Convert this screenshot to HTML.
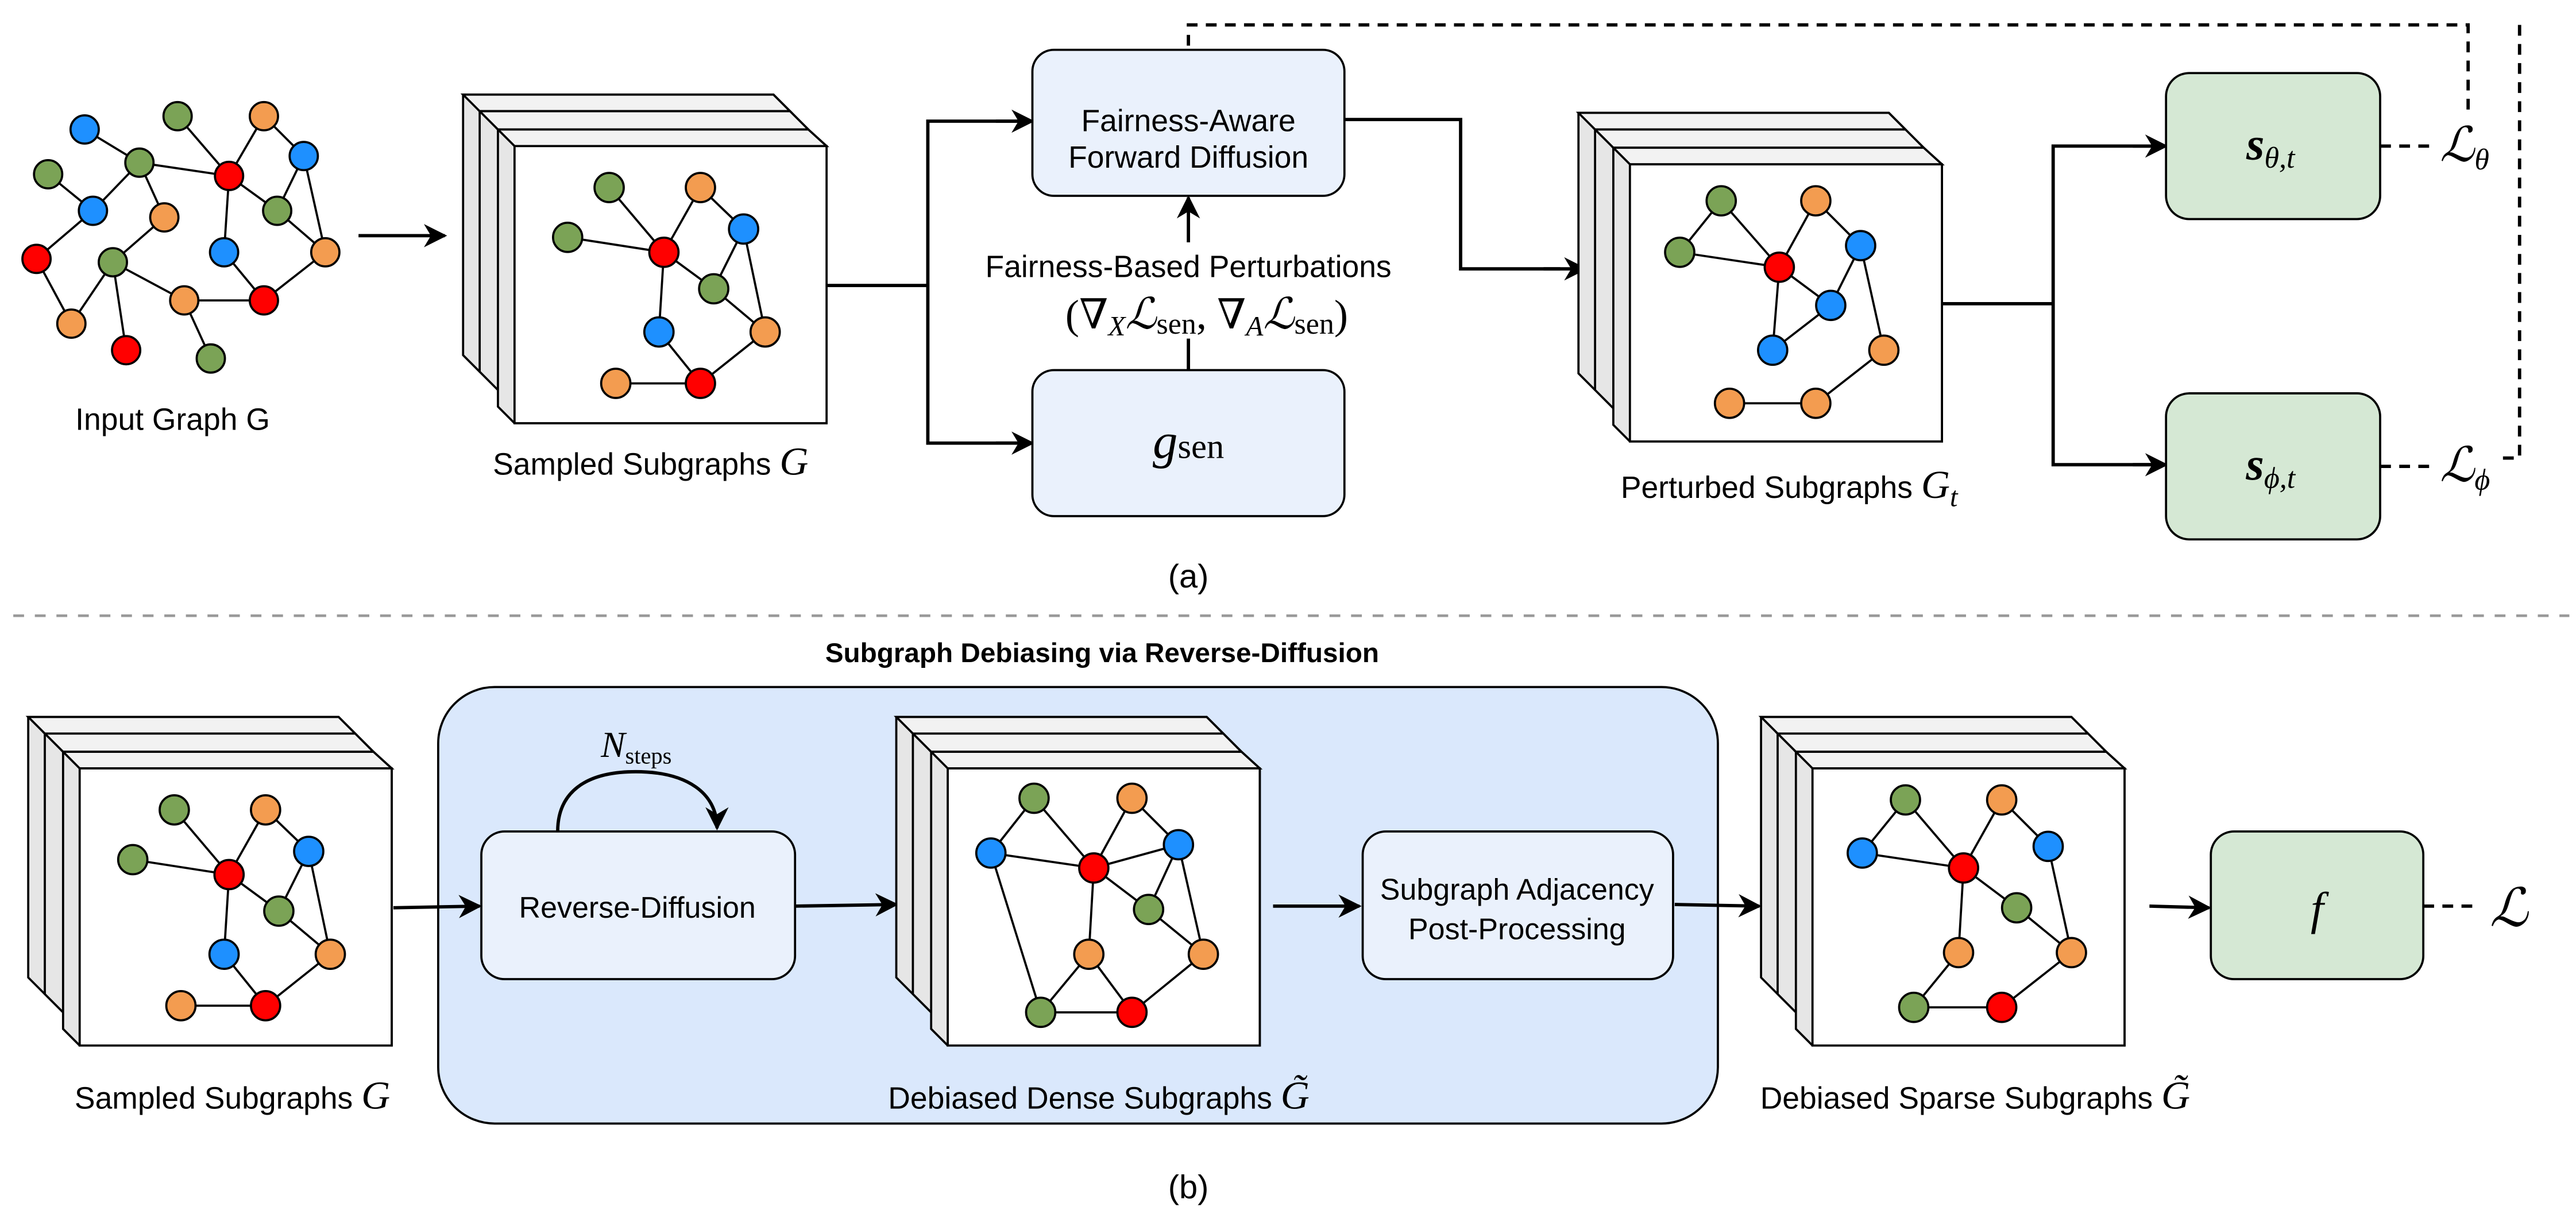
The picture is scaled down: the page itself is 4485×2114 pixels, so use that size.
<!DOCTYPE html>
<html><head><meta charset="utf-8"><style>
html,body{margin:0;padding:0;background:#fff;}
svg{display:block;}
text{font-family:"Liberation Sans",sans-serif;}
.m{font-family:"Liberation Serif","DejaVu Serif",serif;font-style:italic;}
.r{font-family:"Liberation Serif","DejaVu Serif",serif;}
</style></head><body>
<svg xmlns="http://www.w3.org/2000/svg" width="4485" height="2114" viewBox="0 0 1552 731.5">
<defs>
<marker id="ar2" viewBox="0 0 10 10" refX="9" refY="5" markerWidth="14" markerHeight="14" orient="auto" markerUnits="userSpaceOnUse">
<path d="M0,0 L10,5 L0,10 L3,5 z" fill="#000"/></marker>
</defs>
<g stroke="#000" stroke-width="1.3">

<g stroke-width="1.3">
<line x1="51" y1="78" x2="84" y2="98"/><line x1="107" y1="70" x2="138" y2="106"/>
<line x1="159" y1="70" x2="138" y2="106"/><line x1="159" y1="70" x2="183" y2="94"/>
<line x1="84" y1="98" x2="138" y2="106"/><line x1="29" y1="105" x2="56" y2="127"/>
<line x1="56" y1="127" x2="84" y2="98"/><line x1="84" y1="98" x2="99" y2="131"/>
<line x1="138" y1="106" x2="167" y2="127"/><line x1="138" y1="106" x2="135" y2="152"/>
<line x1="183" y1="94" x2="167" y2="127"/><line x1="183" y1="94" x2="196" y2="152"/>
<line x1="167" y1="127" x2="196" y2="152"/><line x1="56" y1="127" x2="22" y2="156"/>
<line x1="22" y1="156" x2="43" y2="195"/><line x1="43" y1="195" x2="68" y2="158"/>
<line x1="68" y1="158" x2="99" y2="131"/><line x1="68" y1="158" x2="76" y2="211"/>
<line x1="68" y1="158" x2="111" y2="181"/><line x1="111" y1="181" x2="159" y2="181"/>
<line x1="135" y1="152" x2="159" y2="181"/><line x1="159" y1="181" x2="196" y2="152"/>
<line x1="111" y1="181" x2="127" y2="216"/>
</g>
<g>
<circle cx="51" cy="78" r="8.5" fill="#1e90ff"/><circle cx="107" cy="70" r="8.5" fill="#7ba356"/>
<circle cx="159" cy="70" r="8.5" fill="#f39c50"/><circle cx="84" cy="98" r="8.5" fill="#7ba356"/>
<circle cx="29" cy="105" r="8.5" fill="#7ba356"/><circle cx="138" cy="106" r="8.5" fill="#ff0000"/>
<circle cx="183" cy="94" r="8.5" fill="#1e90ff"/><circle cx="56" cy="127" r="8.5" fill="#1e90ff"/>
<circle cx="99" cy="131" r="8.5" fill="#f39c50"/><circle cx="167" cy="127" r="8.5" fill="#7ba356"/>
<circle cx="22" cy="156" r="8.5" fill="#ff0000"/><circle cx="68" cy="158" r="8.5" fill="#7ba356"/>
<circle cx="135" cy="152" r="8.5" fill="#1e90ff"/><circle cx="196" cy="152" r="8.5" fill="#f39c50"/>
<circle cx="111" cy="181" r="8.5" fill="#f39c50"/><circle cx="159" cy="181" r="8.5" fill="#ff0000"/>
<circle cx="43" cy="195" r="8.5" fill="#f39c50"/><circle cx="76" cy="211" r="8.5" fill="#ff0000"/>
<circle cx="127" cy="216" r="8.5" fill="#7ba356"/>
</g>
<line x1="216" y1="142" x2="268" y2="142" stroke-width="2" marker-end="url(#ar2)"/>

<g id="stk1">
<polygon points="279,57 466,57 476,67 476,224 289,224 279,214" fill="#e6e6e6"/>
<polygon points="279,57 466,57 476,67 289,67" fill="#f2f2f2"/>
<polygon points="289,67 476,67 487,78 487,235 300,235 289,224" fill="#e6e6e6"/>
<polygon points="289,67 476,67 487,78 300,78" fill="#f2f2f2"/>
<polygon points="300,78 487,78 498,88 498,255 310,255 300,245" fill="#e6e6e6"/>
<polygon points="300,78 487,78 498,88 310,88" fill="#f2f2f2"/>
<rect x="310" y="88" width="188" height="167" fill="#fff"/>
</g>
<g id="sg">
<line x1="367" y1="113" x2="400" y2="152"/><line x1="422" y1="113" x2="400" y2="152"/>
<line x1="422" y1="113" x2="448" y2="138"/><line x1="342" y1="143" x2="400" y2="152"/>
<line x1="400" y1="152" x2="430" y2="174"/><line x1="448" y1="138" x2="430" y2="174"/>
<line x1="448" y1="138" x2="461" y2="200"/><line x1="430" y1="174" x2="461" y2="200"/>
<line x1="400" y1="152" x2="397" y2="200"/><line x1="397" y1="200" x2="422" y2="231"/>
<line x1="371" y1="231" x2="422" y2="231"/><line x1="422" y1="231" x2="461" y2="200"/>
<circle cx="367" cy="113" r="8.8" fill="#7ba356"/><circle cx="422" cy="113" r="8.8" fill="#f39c50"/>
<circle cx="342" cy="143" r="8.8" fill="#7ba356"/><circle cx="400" cy="152" r="8.8" fill="#ff0000"/>
<circle cx="448" cy="138" r="8.8" fill="#1e90ff"/><circle cx="430" cy="174" r="8.8" fill="#7ba356"/>
<circle cx="397" cy="200" r="8.8" fill="#1e90ff"/><circle cx="461" cy="200" r="8.8" fill="#f39c50"/>
<circle cx="371" cy="231" r="8.8" fill="#f39c50"/><circle cx="422" cy="231" r="8.8" fill="#ff0000"/>
</g>

<polyline points="498,172 559,172" fill="none" stroke-width="2"/>
<polyline points="622,73 559,73 559,267 622,267" fill="none" stroke-width="2"/>
<line x1="600" y1="73" x2="622" y2="73" stroke-width="2" marker-end="url(#ar2)"/>
<line x1="600" y1="267" x2="622" y2="267" stroke-width="2" marker-end="url(#ar2)"/>
<rect x="622" y="30" width="188" height="88" rx="13" fill="#eaf1fc"/>
<rect x="622" y="223" width="188" height="88" rx="13" fill="#eaf1fc"/>
<line x1="716" y1="223" x2="716" y2="204" stroke-width="2"/>
<line x1="716" y1="146" x2="716" y2="119" stroke-width="2" marker-end="url(#ar2)"/>
<polyline points="810,72 880,72 880,162 940,162" fill="none" stroke-width="2"/>
<line x1="930" y1="162" x2="955" y2="162" stroke-width="2" marker-end="url(#ar2)"/>

<g transform="translate(672,11)"><use href="#stk1"/></g>
<g>
<line x1="1037" y1="121" x2="1012" y2="152"/><line x1="1037" y1="121" x2="1072" y2="161"/>
<line x1="1094" y1="121" x2="1072" y2="161"/><line x1="1094" y1="121" x2="1121" y2="148"/>
<line x1="1012" y1="152" x2="1072" y2="161"/><line x1="1072" y1="161" x2="1103" y2="184"/>
<line x1="1121" y1="148" x2="1103" y2="184"/><line x1="1121" y1="148" x2="1135" y2="211"/>
<line x1="1072" y1="161" x2="1068" y2="211"/><line x1="1068" y1="211" x2="1103" y2="184"/>
<line x1="1042" y1="243" x2="1094" y2="243"/><line x1="1094" y1="243" x2="1135" y2="211"/>
<circle cx="1037" cy="121" r="8.8" fill="#7ba356"/><circle cx="1094" cy="121" r="8.8" fill="#f39c50"/>
<circle cx="1012" cy="152" r="8.8" fill="#7ba356"/><circle cx="1072" cy="161" r="8.8" fill="#ff0000"/>
<circle cx="1121" cy="148" r="8.8" fill="#1e90ff"/><circle cx="1103" cy="184" r="8.8" fill="#1e90ff"/>
<circle cx="1068" cy="211" r="8.8" fill="#1e90ff"/><circle cx="1135" cy="211" r="8.8" fill="#f39c50"/>
<circle cx="1042" cy="243" r="8.8" fill="#f39c50"/><circle cx="1094" cy="243" r="8.8" fill="#f39c50"/>
</g>
<polyline points="1170,183 1237,183" fill="none" stroke-width="2"/>
<polyline points="1300,88 1237,88 1237,280 1300,280" fill="none" stroke-width="2"/>
<line x1="1285" y1="88" x2="1305" y2="88" stroke-width="2" marker-end="url(#ar2)"/>
<line x1="1285" y1="280" x2="1305" y2="280" stroke-width="2" marker-end="url(#ar2)"/>
<rect x="1305" y="44" width="129" height="88" rx="14" fill="#d5e8d4"/>
<rect x="1305" y="237" width="129" height="88" rx="14" fill="#d5e8d4"/>
<g fill="none" stroke-width="2" stroke-dasharray="6.5,5">
<line x1="1434" y1="88" x2="1466" y2="88"/>
<line x1="1434" y1="281" x2="1466" y2="281"/>
<polyline points="1487,66 1487,15 716,15 716,30"/>
<polyline points="1518,15 1518,276 1508,276"/>
</g>

<line x1="8" y1="371" x2="1548" y2="371" stroke="#999" stroke-width="1.6" stroke-dasharray="6.5,6.5"/>

<rect x="264" y="414" width="771" height="263" rx="34" fill="#dae8fc"/>
<g transform="translate(-262,375)"><use href="#stk1"/><use href="#sg"/></g>
<line x1="237" y1="547" x2="289" y2="546" stroke-width="2" marker-end="url(#ar2)"/>
<rect x="290" y="501" width="189" height="89" rx="14" fill="#eaf1fc"/>
<path d="M336,501 C336,478 352,465 383,465 C414,465 432,478 432,499" fill="none" stroke-width="2" marker-end="url(#ar2)"/>
<line x1="479" y1="546" x2="540" y2="545" stroke-width="2" marker-end="url(#ar2)"/>

<g transform="translate(261,375)"><use href="#stk1"/></g>
<g>
<line x1="623" y1="481" x2="597" y2="514"/><line x1="623" y1="481" x2="659" y2="523"/>
<line x1="682" y1="481" x2="659" y2="523"/><line x1="682" y1="481" x2="710" y2="509"/>
<line x1="597" y1="514" x2="659" y2="523"/><line x1="659" y1="523" x2="710" y2="509"/>
<line x1="659" y1="523" x2="692" y2="548"/><line x1="710" y1="509" x2="692" y2="548"/>
<line x1="710" y1="509" x2="725" y2="575"/><line x1="692" y1="548" x2="725" y2="575"/>
<line x1="659" y1="523" x2="656" y2="575"/><line x1="597" y1="514" x2="627" y2="610"/>
<line x1="656" y1="575" x2="627" y2="610"/><line x1="656" y1="575" x2="682" y2="610"/>
<line x1="627" y1="610" x2="682" y2="610"/><line x1="682" y1="610" x2="725" y2="575"/>
<circle cx="623" cy="481" r="8.8" fill="#7ba356"/><circle cx="682" cy="481" r="8.8" fill="#f39c50"/>
<circle cx="597" cy="514" r="8.8" fill="#1e90ff"/><circle cx="659" cy="523" r="8.8" fill="#ff0000"/>
<circle cx="710" cy="509" r="8.8" fill="#1e90ff"/><circle cx="692" cy="548" r="8.8" fill="#7ba356"/>
<circle cx="656" cy="575" r="8.8" fill="#f39c50"/><circle cx="725" cy="575" r="8.8" fill="#f39c50"/>
<circle cx="627" cy="610" r="8.8" fill="#7ba356"/><circle cx="682" cy="610" r="8.8" fill="#ff0000"/>
</g>
<line x1="767" y1="546" x2="819" y2="546" stroke-width="2" marker-end="url(#ar2)"/>
<rect x="821" y="501" width="187" height="89" rx="14" fill="#eaf1fc"/>
<line x1="1009" y1="545" x2="1060" y2="546" stroke-width="2" marker-end="url(#ar2)"/>

<g transform="translate(782,375)"><use href="#stk1"/></g>
<g>
<line x1="1148" y1="482" x2="1122" y2="514"/><line x1="1148" y1="482" x2="1183" y2="523"/>
<line x1="1206" y1="482" x2="1183" y2="523"/><line x1="1206" y1="482" x2="1234" y2="510"/>
<line x1="1122" y1="514" x2="1183" y2="523"/><line x1="1183" y1="523" x2="1215" y2="547"/>
<line x1="1183" y1="523" x2="1180" y2="574"/><line x1="1234" y1="510" x2="1248" y2="574"/>
<line x1="1215" y1="547" x2="1248" y2="574"/><line x1="1180" y1="574" x2="1153" y2="607"/>
<line x1="1153" y1="607" x2="1206" y2="607"/><line x1="1206" y1="607" x2="1248" y2="574"/>
<circle cx="1148" cy="482" r="8.8" fill="#7ba356"/><circle cx="1206" cy="482" r="8.8" fill="#f39c50"/>
<circle cx="1122" cy="514" r="8.8" fill="#1e90ff"/><circle cx="1183" cy="523" r="8.8" fill="#ff0000"/>
<circle cx="1234" cy="510" r="8.8" fill="#1e90ff"/><circle cx="1215" cy="547" r="8.8" fill="#7ba356"/>
<circle cx="1180" cy="574" r="8.8" fill="#f39c50"/><circle cx="1248" cy="574" r="8.8" fill="#f39c50"/>
<circle cx="1153" cy="607" r="8.8" fill="#7ba356"/><circle cx="1206" cy="607" r="8.8" fill="#ff0000"/>
</g>
<line x1="1295" y1="546" x2="1331" y2="547" stroke-width="2" marker-end="url(#ar2)"/>
<rect x="1332" y="501" width="128" height="89" rx="14" fill="#d5e8d4"/>
<line x1="1460" y1="546" x2="1492" y2="546" stroke-width="2" stroke-dasharray="6.5,5"/>
</g>

<g font-size="18.5" fill="#000">
<text x="104" y="259" text-anchor="middle">Input Graph G</text>
<text x="392" y="286" text-anchor="middle">Sampled Subgraphs <tspan class="m" font-size="24">G</tspan></text>
<text x="716" y="79" text-anchor="middle" font-size="18.5">Fairness-Aware</text>
<text x="716" y="101" text-anchor="middle" font-size="18.5">Forward Diffusion</text>
<text x="716" y="167" text-anchor="middle" font-size="18.5">Fairness-Based Perturbations</text>
<text x="727" y="198" text-anchor="middle" class="r" font-size="25" style="font-style:normal">(∇<tspan class="m" font-size="17" dy="4">X</tspan><tspan class="m" font-size="26" dy="-4">ℒ</tspan><tspan font-size="18" dy="3">sen</tspan><tspan dy="-3">, ∇</tspan><tspan class="m" font-size="17" dy="4">A</tspan><tspan class="m" font-size="26" dy="-4">ℒ</tspan><tspan font-size="18" dy="3">sen</tspan><tspan dy="-3">)</tspan></text>
<text x="716" y="276" text-anchor="middle" class="r" font-size="30"><tspan class="m">g</tspan><tspan font-size="21">sen</tspan></text>
<text x="1078" y="300" text-anchor="middle">Perturbed Subgraphs <tspan class="m" font-size="24">G</tspan><tspan class="m" font-size="17" dy="5">t</tspan></text>
<text x="1368" y="96" text-anchor="middle" class="m" font-size="28" font-weight="bold">s<tspan font-size="18" font-weight="normal" dy="5">θ,t</tspan></text>
<text x="1368" y="289" text-anchor="middle" class="m" font-size="28" font-weight="bold">s<tspan font-size="18" font-weight="normal" dy="5">ϕ,t</tspan></text>
<text x="1470" y="97" class="m" font-size="29">ℒ<tspan font-size="18" dy="5">θ</tspan></text>
<text x="1470" y="290" class="m" font-size="29">ℒ<tspan font-size="18" dy="5">ϕ</tspan></text>
<text x="716" y="354" text-anchor="middle" font-size="20">(a)</text>

<text x="664" y="399" text-anchor="middle" font-weight="bold" font-size="16.5">Subgraph Debiasing via Reverse-Diffusion</text>
<text x="140" y="668" text-anchor="middle">Sampled Subgraphs <tspan class="m" font-size="24">G</tspan></text>
<text x="384" y="553" text-anchor="middle" font-size="18">Reverse-Diffusion</text>
<text x="362" y="456" class="m" font-size="22">N<tspan class="r" style="font-style:normal" font-size="14" dy="4">steps</tspan></text>
<text x="662" y="668" text-anchor="middle">Debiased Dense Subgraphs <tspan class="m" font-size="24">G̃</tspan></text>
<text x="914" y="542" text-anchor="middle" font-size="18">Subgraph Adjacency</text>
<text x="914" y="566" text-anchor="middle" font-size="18">Post-Processing</text>
<text x="1190" y="668" text-anchor="middle">Debiased Sparse Subgraphs <tspan class="m" font-size="24">G̃</tspan></text>
<text x="1396" y="557" text-anchor="middle" class="m" font-size="28">f</text>
<text x="1500" y="558" class="m" font-size="32">ℒ</text>
<text x="716" y="722" text-anchor="middle" font-size="20">(b)</text>
</g>
</svg>
</body></html>
